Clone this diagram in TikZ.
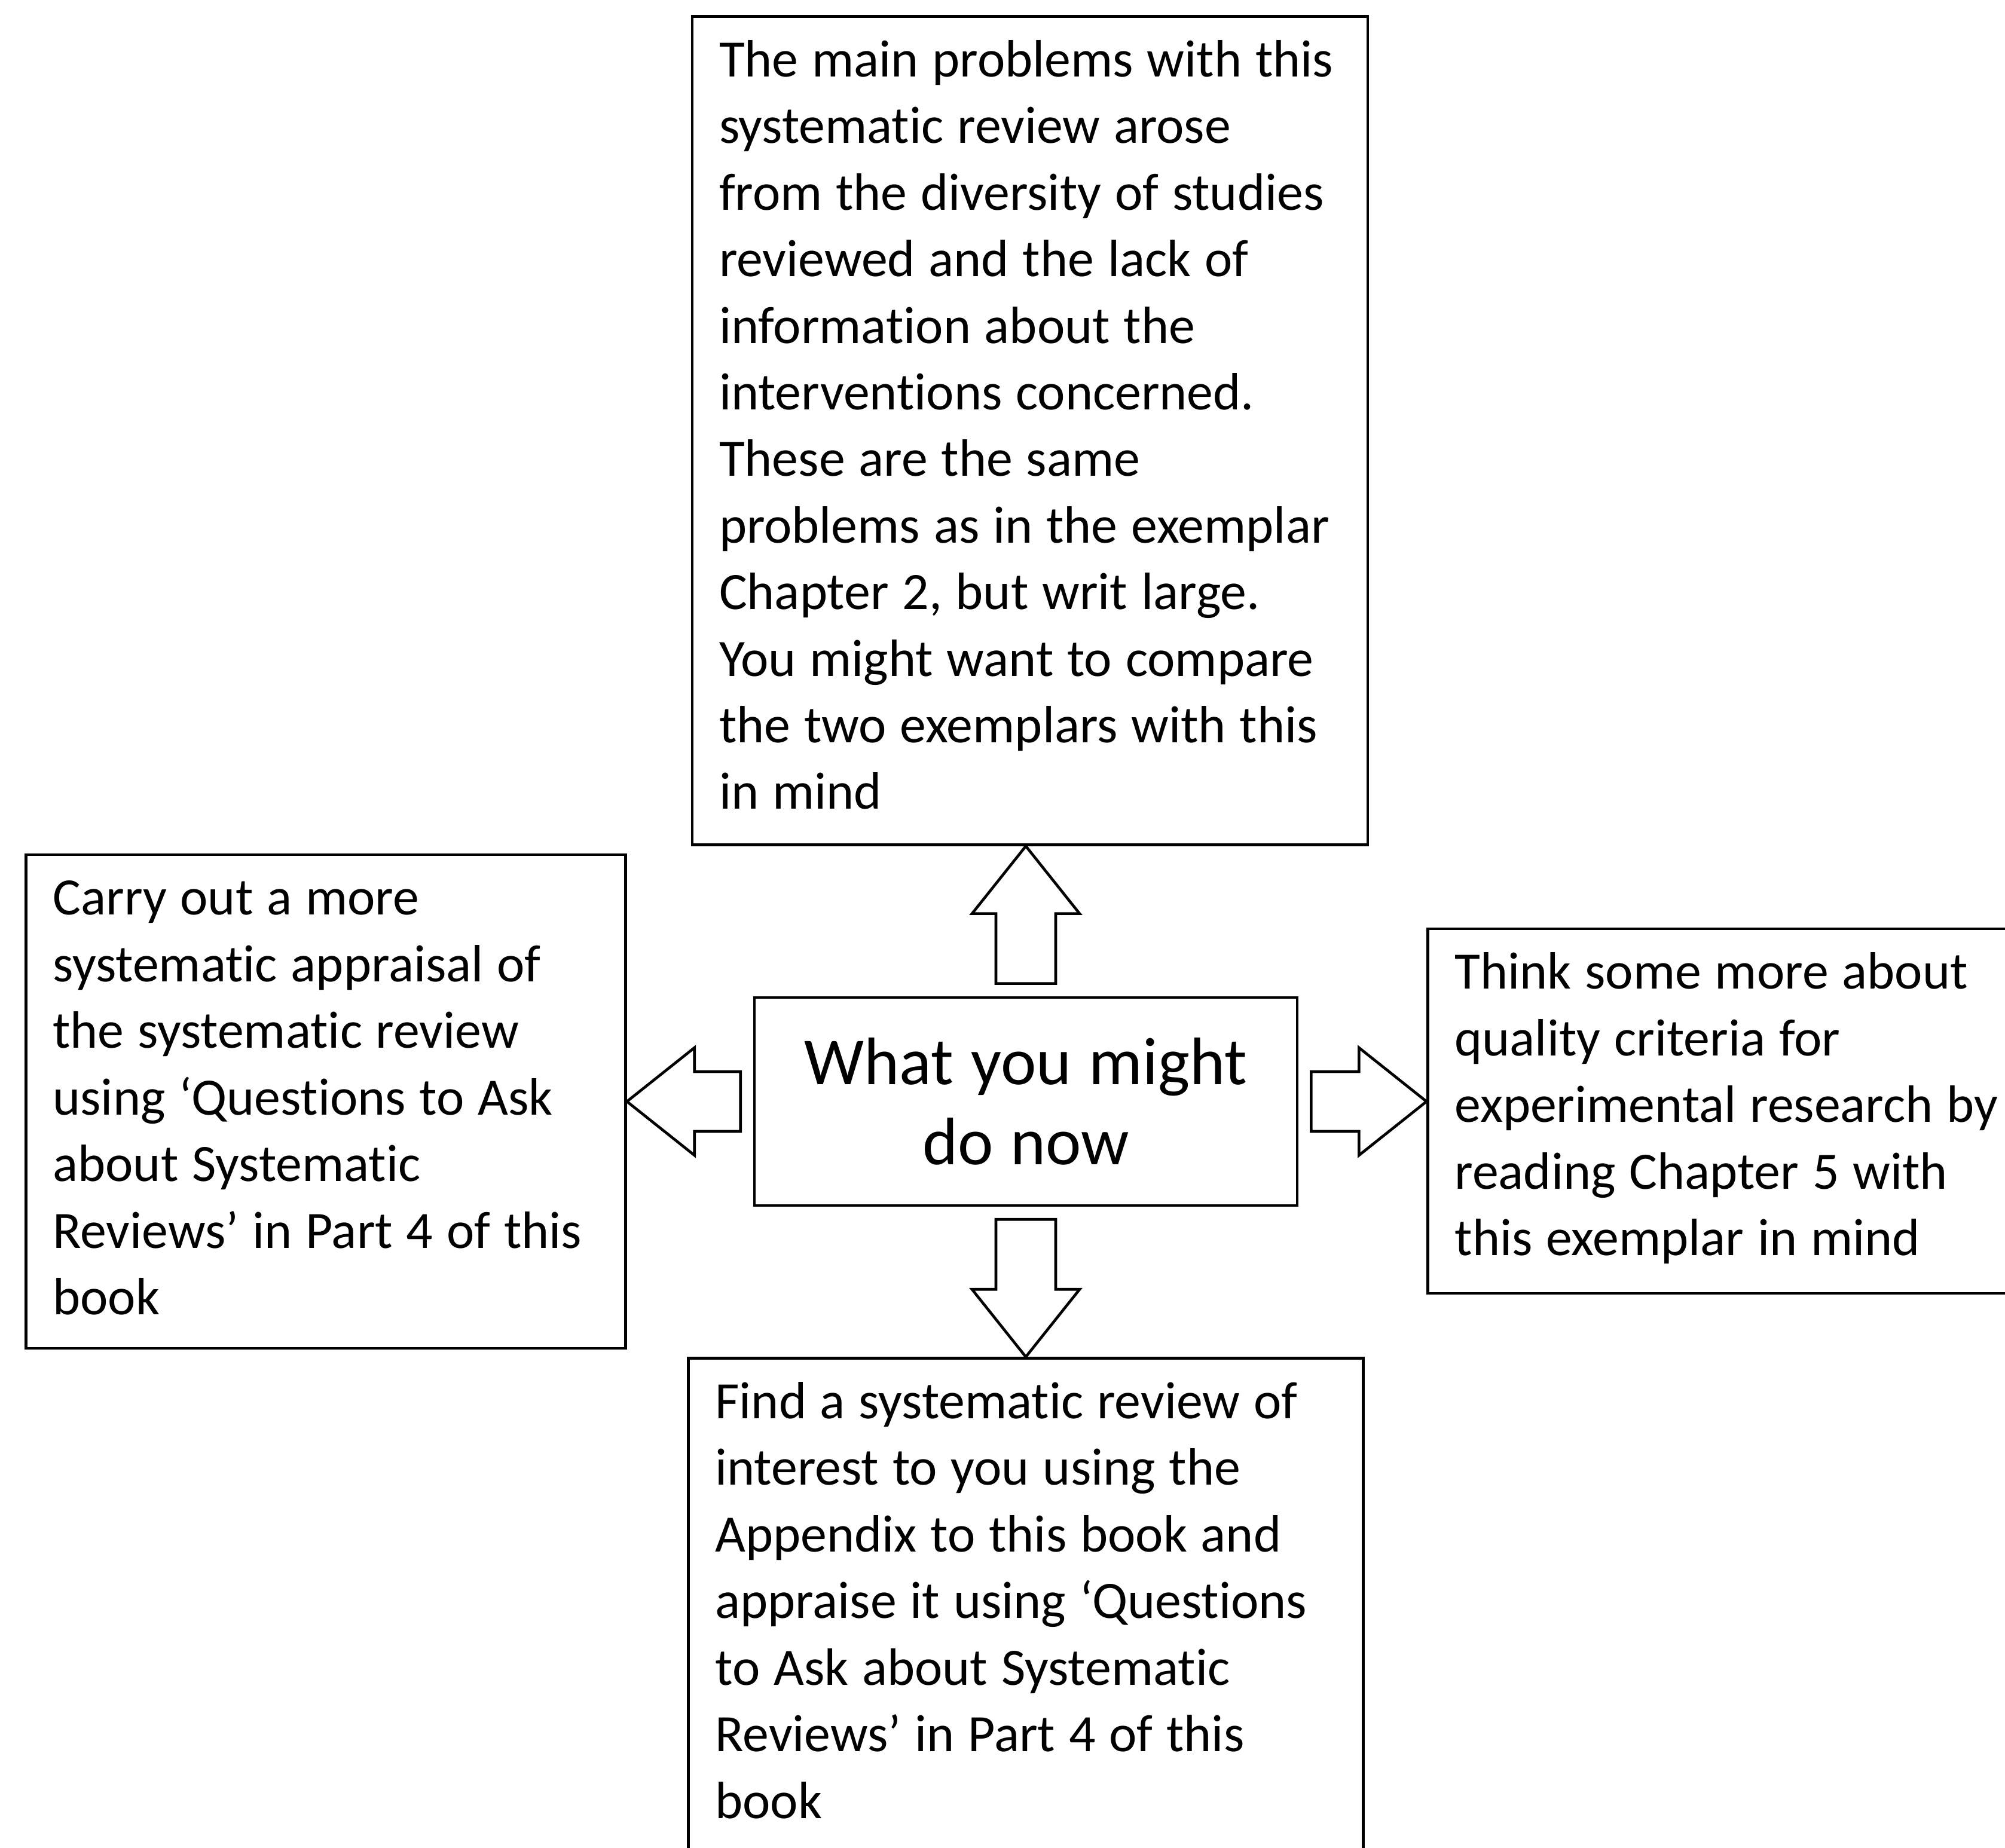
\documentclass[tikz,border=0pt]{standalone}
\usepackage{fontspec}
\setmainfont{Carlito}[Ligatures=NoCommon, WordSpace=1.15]
\usepackage{tikz}
\usetikzlibrary{positioning,calc}
\hyphenpenalty=10000

\begin{document}
\begin{tikzpicture}[node distance=2.5cm, auto,
  box/.style={draw, line width=1.3pt, align=flush left, inner xsep=0.45cm, inner ysep=0.39cm,
    text height=0.62cm, font=\fontsize{25}{31.7}\selectfont},
  bigarrow/.style={draw, line width=1.3pt, line join=miter, to path={
    ($(\tikztostart)!0.21cm!(\tikztotarget)!0.5cm!90:(\tikztotarget)$) --
    ($(\tikztotarget)!1.13cm!(\tikztostart)!0.5cm!-90:(\tikztostart)$) --
    ($(\tikztotarget)!1.13cm!(\tikztostart)!0.9cm!-90:(\tikztostart)$) --
    (\tikztotarget) --
    ($(\tikztotarget)!1.13cm!(\tikztostart)!0.9cm!90:(\tikztostart)$) --
    ($(\tikztotarget)!1.13cm!(\tikztostart)!0.5cm!90:(\tikztostart)$) --
    ($(\tikztostart)!0.21cm!(\tikztotarget)!0.5cm!-90:(\tikztotarget)$) -- cycle}}]
 \useasboundingbox (0,0) rectangle (33.54,30.91);
 \clip (0,0) rectangle (33.54,30.91);
 %Nodes
	\node[draw, line width=1.3pt, minimum width=9.08cm, minimum height=3.48cm, align=center,
	  font=\fontsize{32}{38}\selectfont] (main) at (17.16,12.48) {What you might\\do now};
	\node[box, text width=10.4cm, text depth=12.46cm, above=2.51cm of main, xshift=0.7mm] (problems)
	  {The main problems with this\\systematic review arose\\from the diversity of studies\\reviewed and the lack of\\information about the\\interventions concerned.\\These are the same\\problems as in the exemplar\\Chapter 2, but writ large.\\You might want to compare\\the two exemplars with this\\in mind};
	\node[box, text width=9.13cm, text depth=6.86cm, left=2.11cm of main] (appraise)
	  {Carry out a more\\systematic appraisal of\\the systematic review\\using ‘Questions to Ask\\about Systematic\\Reviews’ in Part 4 of this\\book};
	\node[box, text width=10cm, text depth=4.7cm, right=2.14cm of main, yshift=-1.6mm] (criteria)
	  {Think some more about\\quality criteria for\\experimental research by\\reading Chapter 5 with\\this exemplar in mind};
	\node[box, text width=10.39cm, text depth=9cm, below=2.51cm of main] (findreview)
	  {Find a systematic review of\\interest to you using the\\Appendix to this book and\\appraise it using ‘Questions\\to Ask about Systematic\\Reviews’ in Part 4 of this\\book};
	% Arrows
	\coordinate (uptip) at (main.north |- problems.south);
	\coordinate (lefttip) at (main.west -| appraise.east);
	\coordinate (righttip) at (main.east -| criteria.west);
	\coordinate (downtip) at (main.south |- findreview.north);
	\draw[bigarrow] (main.north) to (uptip);
	\draw[bigarrow] (main.west) to (lefttip);
	\draw[bigarrow] (main.east) to (righttip);
	\draw[bigarrow] (main.south) to (downtip);
\end{tikzpicture}
\end{document}
